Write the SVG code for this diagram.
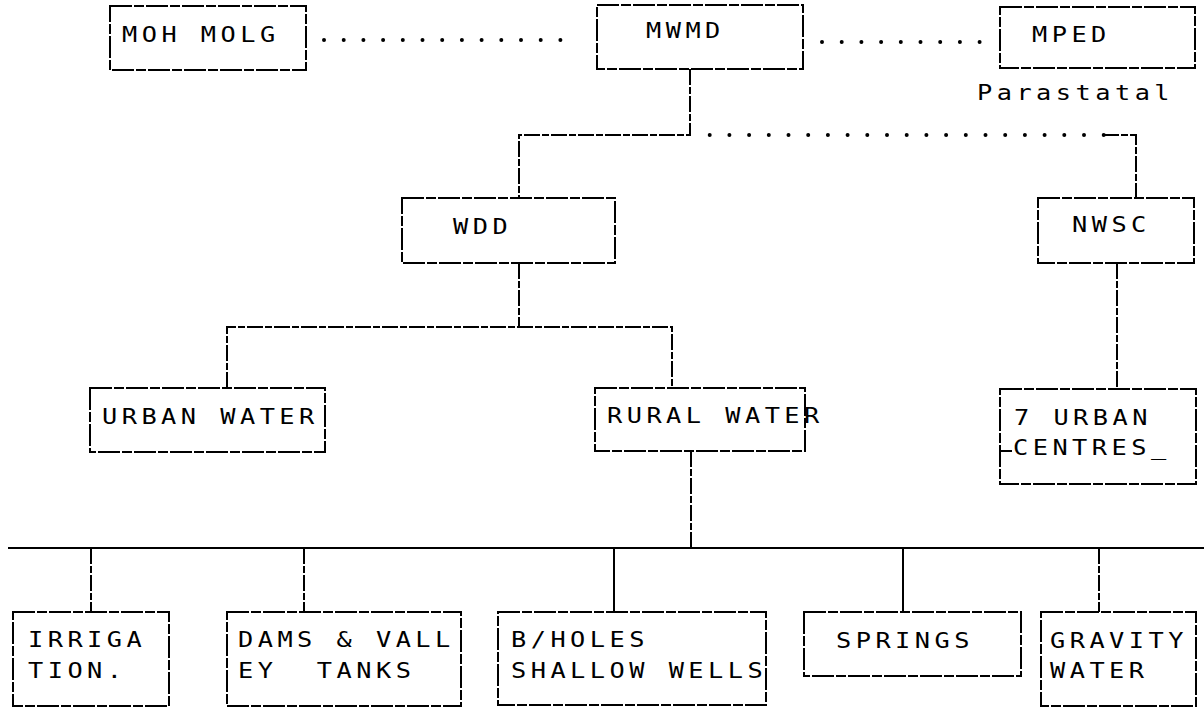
<svg xmlns="http://www.w3.org/2000/svg" width="1204" height="708" viewBox="0 0 1204 708">
<style>
.bg{fill:#fff}
.box{fill:none;stroke:#000;stroke-width:2;stroke-dasharray:22 2 10 2}
.ln{fill:none;stroke:#000;stroke-width:2;stroke-dasharray:16 2 7 2}
.solid{fill:none;stroke:#000;stroke-width:2}
.dot{fill:none;stroke:#000;stroke-width:4;stroke-linecap:round;stroke-dasharray:0 19.7}
text{font-family:"DejaVu Sans Mono","Liberation Mono",monospace;font-size:22px;letter-spacing:3.9px;fill:#000}
</style>
<rect class="bg" x="0" y="0" width="1204" height="708"/>
<g id="connectors">
  <path class="dot" d="M324 40 H580"/>
  <path class="dot" d="M822 42 H982"/>
  <path class="ln" d="M690 69 V135 H519 V198"/>
  <path class="dot" d="M709.7 135 H1105"/>
  <path class="ln" d="M1103 135 H1136 V198"/>
  <path class="ln" d="M519 263 V327"/>
  <path class="ln" d="M227 388 V327 H672 V388"/>
  <path class="ln" d="M1117 263 V389"/>
  <path class="ln" d="M691 451 V548"/>
  <path class="solid" d="M8 548 H1204"/>
  <path class="ln" d="M91 548 V612"/>
  <path class="ln" d="M304 548 V612"/>
  <path class="solid" d="M614 548 V612"/>
  <path class="solid" d="M903 548 V612"/>
  <path class="ln" d="M1099 548 V612"/>
</g>
<g id="moh-molg">
  <rect class="box" x="110" y="6" width="196" height="64"/>
  <text transform="translate(122 42) scale(1.15 1)">MOH MOLG</text>
</g>
<g id="mwmd">
  <rect class="box" x="597" y="5" width="206" height="64"/>
  <text transform="translate(646 38) scale(1.15 1)">MWMD</text>
</g>
<g id="mped">
  <rect class="box" x="1000" y="7" width="195" height="61"/>
  <text transform="translate(1032 42) scale(1.15 1)">MPED</text>
</g>
<g id="parastatal-label">
  <text transform="translate(977 100) scale(1.15 1)">Parastatal</text>
</g>
<g id="wdd">
  <rect class="box" x="402" y="198" width="213" height="65"/>
  <text transform="translate(453 234) scale(1.15 1)">WDD</text>
</g>
<g id="nwsc">
  <rect class="box" x="1038" y="198" width="156" height="65"/>
  <text transform="translate(1072 232) scale(1.15 1)">NWSC</text>
</g>
<g id="urban-water">
  <rect class="box" x="90" y="388" width="235" height="64"/>
  <text transform="translate(102 424) scale(1.15 1)">URBAN WATER</text>
</g>
<g id="rural-water">
  <rect class="box" x="595" y="388" width="210" height="63"/>
  <text transform="translate(607 423) scale(1.15 1)">RURAL WATER</text>
</g>
<g id="urban-centres">
  <rect class="box" x="1000" y="389" width="196" height="95"/>
  <path class="solid" d="M1000 451 H1012"/>
  <text transform="translate(1014 425) scale(1.15 1)">7 URBAN</text>
  <text transform="translate(1013 455) scale(1.15 1)">CENTRES_</text>
</g>
<g id="irrigation">
  <rect class="box" x="13" y="612" width="156" height="94"/>
  <text transform="translate(28 647) scale(1.15 1)">IRRIGA</text>
  <text transform="translate(28 678) scale(1.15 1)">TION.</text>
</g>
<g id="dams">
  <rect class="box" x="227" y="612" width="234" height="94"/>
  <text transform="translate(238 647) scale(1.15 1)">DAMS &amp; VALL</text>
  <text transform="translate(238 678) scale(1.15 1)" xml:space="preserve">EY  TANKS</text>
</g>
<g id="boreholes">
  <rect class="box" x="498" y="612" width="268" height="93"/>
  <text transform="translate(511 647) scale(1.15 1)">B/HOLES</text>
  <text transform="translate(511 678) scale(1.15 1)">SHALLOW WELLS</text>
</g>
<g id="springs">
  <rect class="box" x="804" y="612" width="217" height="64"/>
  <text transform="translate(836 648) scale(1.15 1)">SPRINGS</text>
</g>
<g id="gravity">
  <rect class="box" x="1041" y="612" width="155" height="94"/>
  <text transform="translate(1050 648) scale(1.15 1)">GRAVITY</text>
  <text transform="translate(1050 678) scale(1.15 1)">WATER</text>
</g>
</svg>
